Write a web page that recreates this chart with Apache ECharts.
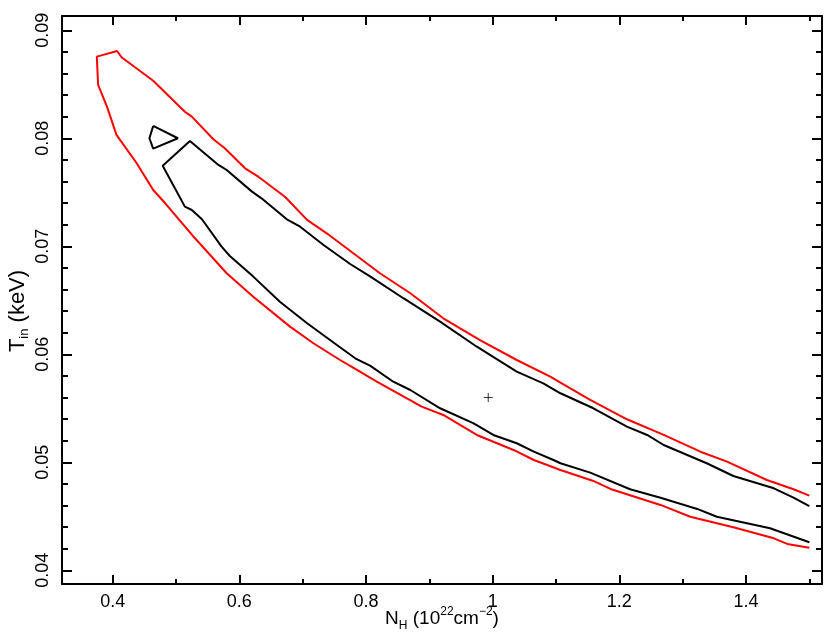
<!DOCTYPE html>
<html>
<head>
<meta charset="utf-8">
<script src="https://cdn.jsdelivr.net/npm/echarts@6.0.0/dist/echarts.min.js"></script>
<style>
  html, body { margin: 0; padding: 0; background: #fff; }
  #chart { width: 830px; height: 637px; }
</style>
</head>
<body>
<div id="chart"></div>
<script>
// contour levels as [N_H, T_in] pairs
// outer (red) contour: upper edge right->left, round the tip, lower edge left->right
var redContour = [
  [1.500, 0.04691], [1.475, 0.04750], [1.433, 0.04836], [1.370, 0.05006], [1.328, 0.05098],
  [1.270, 0.05253], [1.212, 0.05398], [1.154, 0.05577], [1.107, 0.05737], [1.091, 0.05793],
  [1.038, 0.05947], [0.980, 0.06132], [0.922, 0.06333], [0.870, 0.06565], [0.822, 0.06750],
  [0.780, 0.06935], [0.738, 0.07120], [0.707, 0.07244], [0.672, 0.07459], [0.630, 0.07644],
  [0.609, 0.07722], [0.577, 0.07907], [0.559, 0.07991], [0.525, 0.08200], [0.514, 0.08246],
  [0.464, 0.08533], [0.414, 0.08750], [0.407, 0.08808], [0.375, 0.08756],
  [0.377, 0.08494], [0.391, 0.08293], [0.406, 0.08031], [0.438, 0.07769], [0.464, 0.07521],
  [0.483, 0.07398], [0.530, 0.07074], [0.580, 0.06750], [0.622, 0.06533], [0.680, 0.06256],
  [0.717, 0.06102], [0.759, 0.05947], [0.775, 0.05892], [0.817, 0.05746], [0.888, 0.05515],
  [0.922, 0.05438], [0.975, 0.05253], [1.033, 0.05114], [1.065, 0.05021], [1.107, 0.04929],
  [1.159, 0.04827], [1.186, 0.04753], [1.265, 0.04605], [1.312, 0.04496], [1.380, 0.04398],
  [1.444, 0.04296], [1.465, 0.04244], [1.500, 0.04209]
];
// inner (black) contour
var blackContour = [
  [1.500, 0.04595], [1.475, 0.04672], [1.444, 0.04759], [1.380, 0.04873], [1.338, 0.04991],
  [1.270, 0.05160], [1.244, 0.05253], [1.212, 0.05330], [1.159, 0.05500], [1.107, 0.05639],
  [1.080, 0.05731], [1.038, 0.05839], [0.975, 0.06070], [0.917, 0.06302], [0.859, 0.06519],
  [0.807, 0.06719], [0.775, 0.06836], [0.733, 0.07012], [0.696, 0.07181], [0.675, 0.07250],
  [0.635, 0.07444], [0.620, 0.07506], [0.580, 0.07706], [0.567, 0.07753], [0.522, 0.07975],
  [0.479, 0.07746],
  [0.514, 0.07367], [0.525, 0.07336], [0.541, 0.07250], [0.572, 0.06996], [0.585, 0.06910],
  [0.622, 0.06719], [0.664, 0.06487], [0.707, 0.06287], [0.754, 0.06086], [0.783, 0.05963],
  [0.807, 0.05892], [0.843, 0.05746], [0.870, 0.05669], [0.917, 0.05500], [0.970, 0.05361],
  [1.001, 0.05253], [1.038, 0.05176], [1.065, 0.05098], [1.096, 0.05021], [1.107, 0.04991],
  [1.154, 0.04904], [1.217, 0.04750], [1.265, 0.04672], [1.323, 0.04568], [1.354, 0.04496],
  [1.438, 0.04389], [1.500, 0.04259]
];
// small closed island of the inner contour
var blackIsland = [
  [0.464, 0.08114], [0.503, 0.08000], [0.464, 0.07904], [0.458, 0.08000], [0.464, 0.08114]
];
// best fit
var bestFit = [[0.993, 0.0560]];

var xMin = 0.32, xMax = 1.52;
var yMin = 0.03873, yMax = 0.09132;

var font = 'Liberation Sans';

function frameAxis(pos, label) {
  var horiz = pos === 'bottom' || pos === 'top';
  return {
    type: 'value',
    position: pos,
    min: horiz ? xMin : yMin,
    max: horiz ? xMax : yMax,
    minInterval: horiz ? 0.2 : 0.01,
    maxInterval: horiz ? 0.2 : 0.01,
    splitNumber: horiz ? 6 : 5,
    axisLine: { show: true, onZero: false, lineStyle: { color: '#000', width: 2 } },
    axisTick: { show: true, inside: true, length: horiz ? 9 : 10, lineStyle: { color: '#000', width: 2 } },
    minorTick: {
      show: true, splitNumber: horiz ? 2 : 5,
      length: horiz ? 5 : 6, lineStyle: { color: '#000', width: 2 }
    },
    splitLine: { show: false },
    minorSplitLine: { show: false },
    axisLabel: label ? {
      show: true, color: '#000', fontSize: 18, fontFamily: font,
      showMinLabel: false, showMaxLabel: false,
      margin: pos === 'left' ? 10 : 9,
      rotate: pos === 'left' ? 90 : 0
    } : { show: false }
  };
}

function nameStyle(big, small, pad) {
  return {
    color: '#000', fontFamily: font, padding: pad,
    rich: {
      n: { fontSize: big, fontFamily: font, color: '#000', lineHeight: 26, verticalAlign: 'middle' },
      sub: { fontSize: small, fontFamily: font, color: '#000', lineHeight: small, verticalAlign: 'bottom' },
      sup: { fontSize: small, fontFamily: font, color: '#000', lineHeight: small, verticalAlign: 'top' }
    }
  };
}

var xBottom = frameAxis('bottom', true);
xBottom.name = '{n|N}{sub|H}{n| (10}{sup|22}{n|cm}{sup|\u22122}{n|)}';
xBottom.nameLocation = 'middle';
xBottom.nameMoveOverlap = false;
xBottom.nameGap = 22;
xBottom.nameTextStyle = nameStyle(19, 12, [0, 0, 0, 0]);

var yLeft = frameAxis('left', true);
yLeft.name = '{n|T}{sub|in}{n| (keV)}';
yLeft.nameLocation = 'middle';
yLeft.nameMoveOverlap = false;
yLeft.nameRotate = 90;
yLeft.nameGap = 31;
yLeft.nameTextStyle = nameStyle(22, 13, [0, 22, 0, 0]);

var chart = echarts.init(document.getElementById('chart'));
chart.setOption({
  animation: false,
  backgroundColor: '#fff',
  grid: { left: 62, right: 8, top: 16, bottom: 53, containLabel: false, outerBoundsMode: 'none' },
  xAxis: [xBottom, frameAxis('top', false)],
  yAxis: [yLeft, frameAxis('right', false)],
  series: [
    {
      type: 'line', data: redContour, showSymbol: false, symbol: 'none',
      lineStyle: { color: '#ff0000', width: 2 }, xAxisIndex: 0, yAxisIndex: 0
    },
    {
      type: 'line', data: blackContour, showSymbol: false, symbol: 'none',
      lineStyle: { color: '#000', width: 2 }, xAxisIndex: 0, yAxisIndex: 0
    },
    {
      type: 'line', data: blackIsland, showSymbol: false, symbol: 'none',
      lineStyle: { color: '#000', width: 2 }, xAxisIndex: 0, yAxisIndex: 0
    },
    {
      type: 'scatter', data: bestFit, symbol: 'path://M0,5L10,5M5,0L5,10', symbolSize: 9,
      itemStyle: { color: 'none', borderColor: '#000', borderWidth: 1 },
      xAxisIndex: 0, yAxisIndex: 0
    }
  ]
});
</script>
</body>
</html>
